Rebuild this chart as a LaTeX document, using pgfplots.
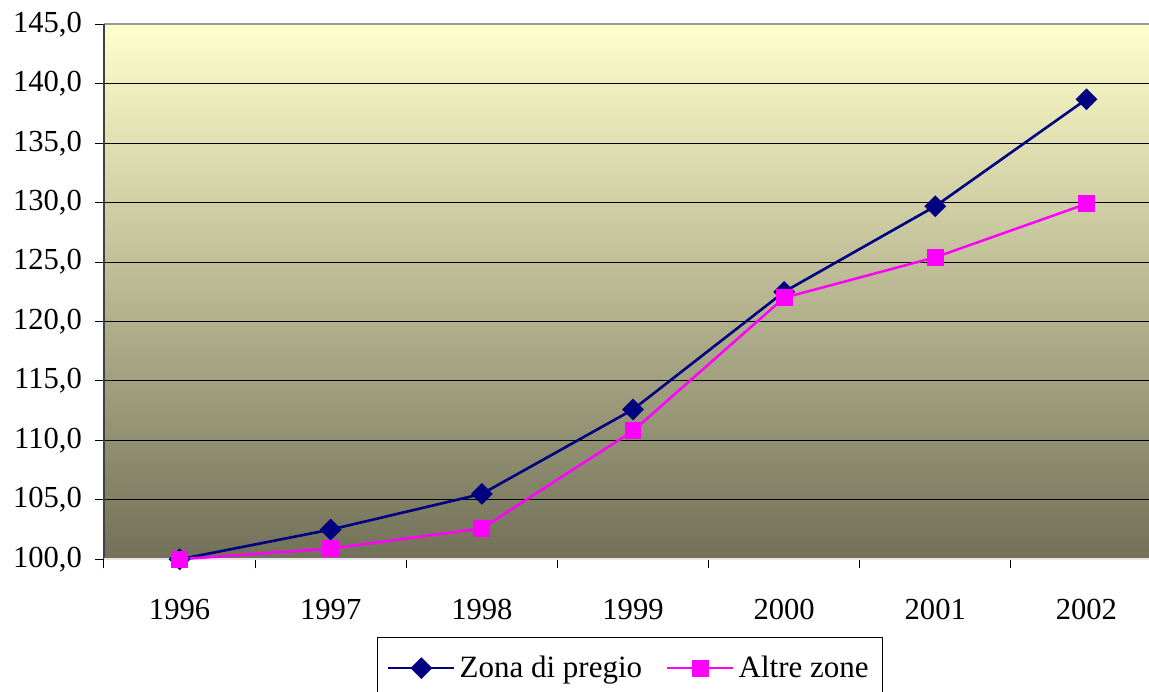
\documentclass[border=0pt]{standalone}
\usepackage{fontspec}
\setmainfont{Liberation Serif}
\usepackage{pgfplots}
\pgfplotsset{compat=1.18}
\definecolor{navyline}{RGB}{0,0,128}
\definecolor{pinkline}{RGB}{255,0,255}
\definecolor{bgtop}{RGB}{255,255,204}
\definecolor{bgbottom}{RGB}{114,112,88}

\begin{document}
\begin{tikzpicture}
\path[use as bounding box] (-52pt,-65.85pt) rectangle (522.5pt,279.65pt);
\begin{axis}[
  at={(0,0)}, anchor=south west,
  scale only axis, width=529pt, height=267.5pt,
  xmin=-0.5, xmax=6.5, ymin=100, ymax=145,
  clip=false,
  axis line style={draw=none},
  axis background/.style={top color=bgtop, bottom color=bgbottom},
  xtick={0,...,6},
  xticklabels={1996,1997,1998,1999,2000,2001,2002},
  minor xtick={-0.5,0.5,...,6.5},
  major x tick style={draw=none},
  minor x tick style={black, line width=0.5pt},
  ytick={100,105,...,145},
  xtick pos=bottom, ytick pos=left,
  tick align=outside,
  major tick length=4.5pt, minor tick length=4.5pt,
  ytick style={black, line width=0.5pt},
  ymajorgrids, grid style={black, line width=0.5pt},
  tick label style={font=\fontsize{15.3}{18}\selectfont},
  xticklabel style={yshift=-12pt},
  yticklabel style={xshift=-3pt},
  /pgf/number format/.cd, fixed, fixed zerofill, precision=1, use comma, assume math mode=true,
  /pgfplots/.cd,
  legend columns=2,
  legend style={at={(0.497,-0.146)}, anchor=north, draw=black, line width=0.5pt,
    font=\fontsize{15.5}{18}\selectfont, inner xsep=5pt, inner ysep=7pt,
    /tikz/every even column/.append style={column sep=10pt}},
  legend image code/.code={
    \draw[mark repeat=2, mark phase=2] plot coordinates {(0pt,0pt) (16.5pt,0pt) (33pt,0pt)};
  },
]
% plot-area frame
\draw[draw=black!40, line width=1pt] (rel axis cs:0,1) -- (rel axis cs:1,1);
\draw[draw=black!75, line width=1pt] (rel axis cs:0,0) -- (rel axis cs:0,1);
\draw[draw=black!10, line width=1pt] (rel axis cs:0,0) -- (rel axis cs:1,0);

\addplot[color=navyline, line width=1.3pt, mark=square*,
  mark options={rotate=45, solid, fill=navyline}, mark size=3.2pt]
  coordinates {(0,100) (1,102.5) (2,105.5) (3,112.6) (4,122.5) (5,129.7) (6,138.7)};
\addlegendentry{Zona di pregio}

\addplot[color=pinkline, line width=1.25pt, mark=square*,
  mark options={solid, fill=pinkline}, mark size=3.6pt]
  coordinates {(0,100) (1,100.9) (2,102.6) (3,110.8) (4,122.0) (5,125.4) (6,129.9)};
\addlegendentry{Altre zone}
\end{axis}
\end{tikzpicture}
\end{document}
